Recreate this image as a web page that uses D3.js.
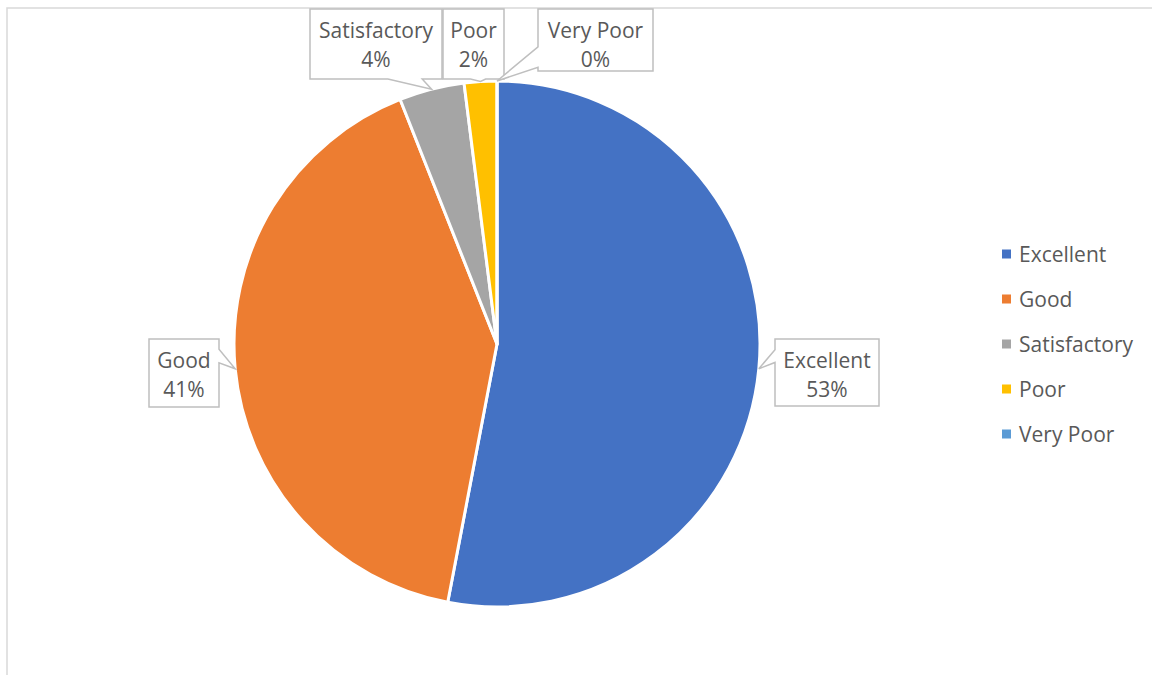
<!DOCTYPE html>
<html>
<head>
<meta charset="utf-8">
<script src="https://cdn.jsdelivr.net/npm/d3@7"></script>
<style>
  html, body { margin: 0; padding: 0; background: #fff; }
  svg { display: block; }
</style>
</head>
<body>
<div id="chart"></div>
<script>
// ── Data ─────────────────────────────────────────────────────
const categories = ['Excellent', 'Good', 'Satisfactory', 'Poor', 'Very Poor'];
const values     = [53, 41, 4, 2, 0];
const colors     = ['#4472C4', '#ED7D31', '#A5A5A5', '#FFC000', '#5B9BD5'];

// callout boxes (layout only): box, side of the wedge, wedge base as fractions of that side
const callouts = [
  { x: 775, y: 339, w: 104, h: 67, side: 'left',   b: [0.16, 0.35] },
  { x: 149, y: 339, w: 70,  h: 68, side: 'right',  b: [0.15, 0.35] },
  { x: 310, y: 9,   w: 132, h: 70, side: 'bottom', b: [0.59, 0.85] },
  { x: 443, y: 9,   w: 61,  h: 70, side: 'bottom', b: [0.45, 0.70] },
  { x: 538, y: 9,   w: 115, h: 62, side: 'left',   b: [0.61, 0.94] },
];

const width = 1152, height = 675;
const cx = 497, cy = 344, radius = 263;
const FONT = '"Open Sans", Calibri, sans-serif';
const TEXT = '#595959';
const FS = 21;

const svg = d3.select('#chart').append('svg')
  .attr('width', width).attr('height', height);

// chart area border
svg.append('rect')
  .attr('x', 7).attr('y', 8)
  .attr('width', width + 20).attr('height', height + 20)
  .attr('fill', '#fff')
  .attr('stroke', '#d9d9d9').attr('stroke-width', 1.5);

const total = d3.sum(values);
const pie = d3.pie().sort(null).value(d => d)(values);
const arc = d3.arc().innerRadius(0).outerRadius(radius);

const g = svg.append('g').attr('transform', `translate(${cx},${cy})`);

g.selectAll('path.slice')
  .data(pie)
  .join('path')
  .attr('class', 'slice')
  .attr('d', arc)
  .attr('fill', (d, i) => colors[i])
  .attr('stroke', '#fff')
  .attr('stroke-width', 3)
  .attr('stroke-linejoin', 'round');

// ── Callout labels ───────────────────────────────────────────
pie.forEach((d, i) => {
  const c = callouts[i];
  const mid = (d.startAngle + d.endAngle) / 2;
  const tx = cx + radius * Math.sin(mid);
  const ty = cy - radius * Math.cos(mid);
  const { x, y, w, h } = c;
  let pts;
  if (c.side === 'left') {
    const y0 = y + h * c.b[0], y1 = y + h * c.b[1];
    pts = [[x, y], [x + w, y], [x + w, y + h], [x, y + h], [x, y1], [tx, ty], [x, y0]];
  } else if (c.side === 'right') {
    const y0 = y + h * c.b[0], y1 = y + h * c.b[1];
    pts = [[x, y], [x + w, y], [x + w, y0], [tx, ty], [x + w, y1], [x + w, y + h], [x, y + h]];
  } else {
    const x0 = x + w * c.b[0], x1 = x + w * c.b[1];
    pts = [[x, y], [x + w, y], [x + w, y + h], [x1, y + h], [tx, ty], [x0, y + h], [x, y + h]];
  }
  svg.append('path')
    .attr('d', d3.line()(pts) + 'Z')
    .attr('fill', '#fff')
    .attr('stroke', '#bfbfbf')
    .attr('stroke-width', 1.5)
    .attr('stroke-linejoin', 'miter');

  const t = svg.append('text')
    .attr('text-anchor', 'middle')
    .attr('font-family', FONT)
    .attr('font-size', FS)
    .attr('fill', TEXT);
  t.append('tspan').attr('x', x + w / 2).attr('y', y + 29).text(categories[i]);
  t.append('tspan').attr('x', x + w / 2).attr('y', y + 58)
    .text(`${Math.round(d.data / total * 100)}%`);
});

// ── Legend ───────────────────────────────────────────────────
const legendY = d3.scalePoint().domain(categories).range([254, 434]);
const legend = svg.append('g');
categories.forEach((name, i) => {
  legend.append('rect')
    .attr('x', 1002).attr('y', legendY(name) - 4.5)
    .attr('width', 9).attr('height', 9)
    .attr('fill', colors[i]);
  legend.append('text')
    .attr('x', 1019).attr('y', legendY(name) + 7.5)
    .attr('font-family', FONT)
    .attr('font-size', FS)
    .attr('fill', TEXT)
    .text(name);
});
</script>
</body>
</html>
